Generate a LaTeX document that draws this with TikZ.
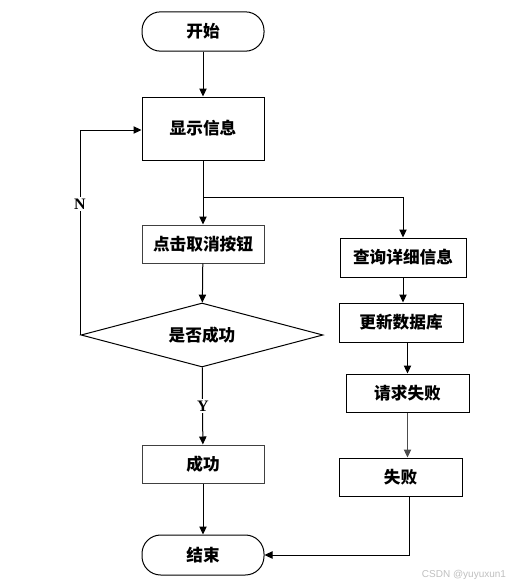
\documentclass[tikz,border=0pt]{standalone}
\usepackage{fontspec}
\setmainfont{Liberation Serif}
\newfontfamily\cjk{Noto Sans CJK SC}
\newfontfamily\wmfont{Liberation Sans}
\usepackage{tikz}
\usetikzlibrary{arrows.meta,shapes.geometric}

\begin{document}
\begin{tikzpicture}[x=0.75pt,y=-0.75pt,>={Triangle[length=6pt,width=5.5pt]},line width=0.75pt,
                    font=\cjk\bfseries\fontsize{12.5}{14}\selectfont,
                    box/.style={rectangle,draw=#1,minimum width=91.5pt,minimum height=28.5pt,inner sep=0pt},
                    box/.default=black,
                    term/.style={rectangle,draw,rounded corners=14pt,minimum width=91.5pt,minimum height=29.5pt,inner sep=0pt},
                    dec/.style={diamond,draw,aspect=3.8,minimum width=181.5pt,minimum height=48pt,inner sep=0pt},
                    yn/.style={fill=white,inner sep=1.5pt,font=\rmfamily\bfseries\fontsize{12}{14}\selectfont}]
  \useasboundingbox (0,0) rectangle (512,586);
  % left column
  \node[term] (start) at (203,31.5) {开始};
  \node[box,minimum height=47.25pt] (show) at (203,128.5) {显示信息};
  \node[box=black!75] (cancel) at (203,244) {点击取消按钮};
  \node[dec] (ok?) at (202,335) {是否成功};
  \node[box=black!75] (ok) at (203,464) {成功};
  \node[term,minimum height=30pt] (end) at (203,555) {结束};
  % right column
  \node[box,minimum width=94.5pt,minimum height=29.25pt] (query) at (403,257.5) {查询详细信息};
  \node[box,minimum width=93pt,minimum height=29.25pt] (update) at (401,322.5) {更新数据库};
  \node[box,minimum width=92.25pt] (reqfail) at (407.5,393) {请求失败};
  \node[box,minimum width=92.25pt] (fail) at (400.5,477) {失败};
  \coordinate (split) at (203,197);
  % connectors
  \draw[->] (start) -- (show);
  \draw[->] (show) -- (cancel);
  \draw (show.south) -- (split);
  \draw[->] (split) -| (query.north);
  \draw[->] (cancel) -- (ok?);
  \draw[->] (ok?.west) -- (ok?.west |- 0,130) -- (show.west |- 0,130);
  \node[yn] (n) at (80,204) {N};
  \draw[->] (ok?) -- (ok);
  \node[yn] (y) at (203,406) {Y};
  \draw[->] (ok) -- (end);
  \draw[->] (query.south) -- (query.south |- update.north);
  \draw[->] (reqfail.north |- update.south) -- (reqfail.north);
  \draw[->,black!70] (reqfail.south) -- (reqfail.south |- fail.north);
  \draw[->] ([xshift=6.4pt]fail.south) |- (end.east);
  % watermark
  \node[anchor=east,text=black!25,font=\wmfont\fontsize{7.5}{9}\selectfont] (wm) at (511,575) {CSDN @yuyuxun1};
\end{tikzpicture}
\end{document}
